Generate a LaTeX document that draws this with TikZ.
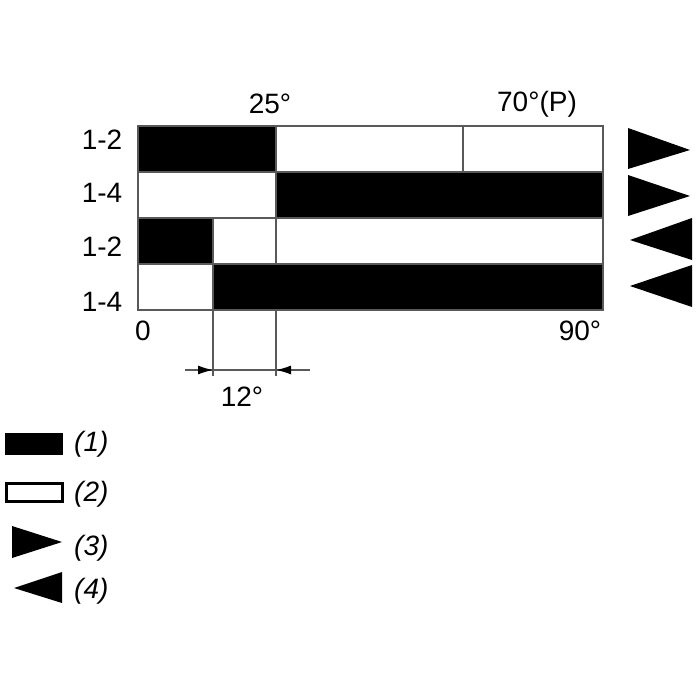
\documentclass[tikz,border=0pt]{standalone}
\usepackage{fontspec}
\setmainfont{Liberation Sans}
\usetikzlibrary{arrows.meta}
\begin{document}
\begin{tikzpicture}[x=1pt,y=-1pt,
  lbl/.style={font=\fontsize{28}{32}\selectfont, inner sep=0pt},
  leg/.style={font=\fontsize{28}{32}\selectfont\itshape, inner sep=0pt, anchor=west},
  edge/.style={draw=black!65, line width=1.5pt},
  tri/.style={fill=black}]
\useasboundingbox (0,0) rectangle (700,700);
% row fills
\fill[black] (138,126) rectangle (276,172);
\fill[black] (276,172) rectangle (603,218);
\fill[black] (138,218) rectangle (213,264);
\fill[black] (213,264) rectangle (603,310);
% grid lines
\draw[edge] (138,126) rectangle (603,310);
\draw[edge] (138,172) -- (603,172);
\draw[edge] (138,218) -- (603,218);
\draw[edge] (138,264) -- (603,264);
\draw[edge] (276,126) -- (276,264);
\draw[edge] (463,126) -- (463,172);
\draw[edge] (213,218) -- (213,310);
% dimension lines
\draw[edge, line width=1.2pt] (213,310) -- (213,376);
\draw[edge, line width=1.2pt] (276,310) -- (276,376);
\coordinate (dl) at (185,370);
\coordinate (dr) at (310,370);
\coordinate (d1) at (213,370);
\coordinate (d2) at (276,370);
\draw[edge, line width=1.2pt] (dl) -- (dr);
\draw[line width=1.2pt, black!65, -{Latex[length=15pt,width=9pt,black]}] (dl) -- (d1);
\draw[line width=1.2pt, black!65, -{Latex[length=15pt,width=9pt,black]}] (dr) -- (d2);
\node[lbl] (t12) at (242,397) {12°};
% triangles right
\fill[tri] (628,128) -- (690,150) -- (628,169) -- cycle;
\fill[tri] (628,175) -- (690,196) -- (628,216) -- cycle;
\fill[tri] (692,218) -- (630,240) -- (692,260) -- cycle;
\fill[tri] (692,265) -- (630,286) -- (692,307) -- cycle;
% labels
\node[lbl] (r1) at (102,140) {1-2};
\node[lbl] (r2) at (102,193) {1-4};
\node[lbl] (r3) at (102,247) {1-2};
\node[lbl] (r4) at (102,302) {1-4};
\node[lbl] (a25) at (270,104) {25°};
\node[lbl] (a70) at (537,104) {70°(P)};
\node[lbl] (a0) at (143,331) {0};
\node[lbl] (a90) at (580,331) {90°};
% legend
\fill[black] (5,433) rectangle (63,455);
\draw[black, line width=3pt, fill=white] (6,483) rectangle (62,501);
\fill[tri] (12,526) -- (62,542) -- (12,558) -- cycle;
\fill[tri] (62,572) -- (14,588) -- (62,603) -- cycle;
\node[leg] (l1) at (74,444) {(1)};
\node[leg] (l2) at (74,494) {(2)};
\node[leg] (l3) at (74,548) {(3)};
\node[leg] (l4) at (74,591) {(4)};
\end{tikzpicture}
\end{document}
